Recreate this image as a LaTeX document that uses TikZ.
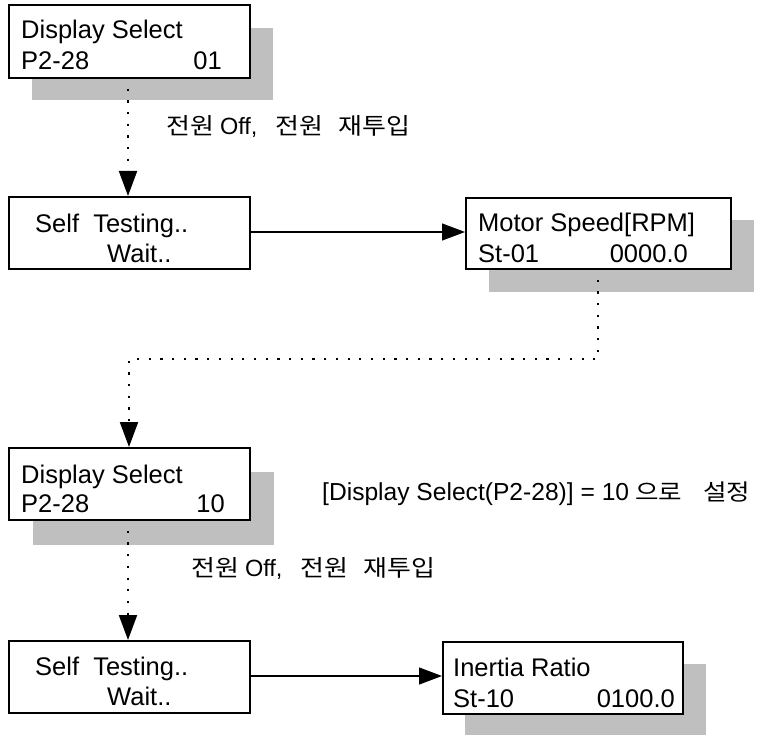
\documentclass[tikz,border=0pt]{standalone}
\usepackage{fontspec}
\setmainfont{Liberation Sans}
\newfontfamily\cjk[FakeStretch=1.13]{Noto Sans CJK KR}
\usetikzlibrary{arrows.meta}
\newcommand{\K}[1]{{\cjk\fontsize{23}{30}\selectfont #1}}
\newcommand{\KK}[1]{{\cjk\fontsize{22.6}{30}\selectfont #1}}
\begin{document}
\begin{tikzpicture}[x=1pt,y=-1pt,
  box/.style={draw=black,line width=1.8pt,fill=white,rectangle,inner sep=0pt},
  shadowbox/.style={fill=black!25,draw=none},
  txt/.style={inner sep=0pt,font=\fontsize{25.5}{30}\selectfont},
  lbl/.style={inner sep=0pt,font=\fontsize{23.5}{28}\selectfont},
  lblb/.style={inner sep=0pt,font=\fontsize{24.6}{28}\selectfont},
  dotline/.style={line width=2pt,dash pattern=on 2.2pt off 9.5pt},
  flowdot/.style={dotline,-{Triangle[width=18pt,length=25pt]}},
  flowsolid/.style={line width=1.2pt,-{Triangle[width=17pt,length=23pt]}}]
\useasboundingbox (0,0) rectangle (771,735);
% shadows
\fill[shadowbox] (32,28) rectangle (273,100);
\fill[shadowbox] (489,220) rectangle (754,292);
\fill[shadowbox] (33,472) rectangle (274,545);
\fill[shadowbox] (465,664) rectangle (706,735);
% dotted connectors
\coordinate (b1s) at (128,77);
\coordinate (b2n) at (128,196);
\coordinate (msd) at (598,268);
\coordinate (c1) at (598,359);
\coordinate (c2) at (129,359);
\coordinate (b3n) at (129,447);
\coordinate (b3s) at (128,519);
\coordinate (b4n) at (128,640);
\draw[flowdot] (b1s) -- (b2n);
\draw[flowdot] (msd) -- (c1) -- (c2) -- (b3n);
\draw[flowdot] (b3s) -- (b4n);
% boxes
\node[box,minimum width=241pt,minimum height=73pt,anchor=north west] (b1) at (8,4) {};
\node[box,minimum width=241pt,minimum height=72pt,anchor=north west] (b2) at (8,196) {};
\node[box,minimum width=265pt,minimum height=71pt,anchor=north west] (m) at (465,197) {};
\node[box,minimum width=241pt,minimum height=72pt,anchor=north west] (b3) at (8,447) {};
\node[box,minimum width=241pt,minimum height=72pt,anchor=north west] (b4) at (8,640) {};
\node[box,minimum width=240pt,minimum height=72pt,anchor=north west] (ir) at (442,641) {};
% solid arrows
\draw[flowsolid] (b2.east |- 0,232) -- (m.west |- 0,232);
\draw[flowsolid] (b4.east |- 0,676) -- (ir.west |- 0,676);
% box texts
\node[txt,anchor=base west] (t1a) at (21,39) {Display Select};
\node[txt,anchor=base west] (t1b) at (21,70) {P2-28};
\node[txt,anchor=base east] (t1c) at (222,70) {01};
\node[txt,anchor=base west] (t2a) at (35,233) {Self\ \ Testing..};
\node[txt,anchor=base west] (t2b) at (107,263) {Wait..};
\node[txt,anchor=base west] (tma) at (478,232) {Motor Speed[RPM]};
\node[txt,anchor=base west] (tmb) at (478,263) {St-01};
\node[txt,anchor=base east] (tmc) at (688,263) {0000.0};
\node[txt,anchor=base west] (t3a) at (21,483) {Display Select};
\node[txt,anchor=base west] (t3b) at (21,512) {P2-28};
\node[txt,anchor=base east] (t3c) at (225,512) {10};
\node[txt,anchor=base west] (t4a) at (35,675) {Self\ \ Testing..};
\node[txt,anchor=base west] (t4b) at (107,705) {Wait..};
\node[txt,anchor=base west] (tia) at (453,676) {Inertia Ratio};
\node[txt,anchor=base west] (tib) at (453,707) {St-10};
\node[txt,anchor=base east] (tic) at (675,707) {0100.0};
% labels
\node[lbl,anchor=base west] (l1) at (166,135) {\K{전원}\hspace{6pt}Off,\hspace{18pt}\K{전원}\hspace{15pt}\K{재투입}};
\node[lbl,anchor=base west] (l2) at (191,576) {\K{전원}\hspace{6pt}Off,\hspace{18pt}\K{전원}\hspace{15pt}\K{재투입}};
\node[lblb,anchor=base west] (l3) at (322,500) {[Display Select(P2-28)] = 10\hspace{6pt}\KK{으로}\hspace{21pt}\KK{설정}};
\end{tikzpicture}
\end{document}
